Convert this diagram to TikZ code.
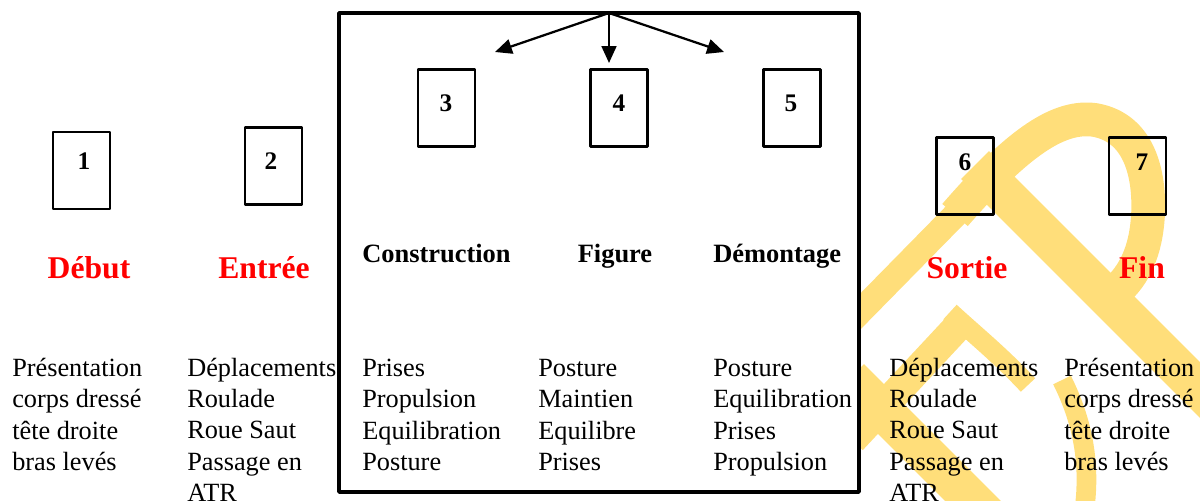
\documentclass[tikz,border=0pt]{standalone}
\usepackage{fontspec}
\setmainfont{Liberation Serif}
\usetikzlibrary{arrows.meta}
\definecolor{wmyellow}{RGB}{255,222,122}
\definecolor{titlered}{RGB}{255,0,0}
\tikzset{
  numbox/.style={draw,line width=1.8pt,minimum width=40.5pt,minimum height=54.5pt,inner sep=0pt},
  digit/.style={anchor=base,inner sep=0pt,font=\fontsize{18}{22}\selectfont\bfseries},
  redtitle/.style={anchor=base,inner sep=0pt,text=titlered,font=\fontsize{22.5}{27}\selectfont\bfseries},
  blacktitle/.style={anchor=base west,inner sep=0pt,font=\fontsize{18.8}{22}\selectfont\bfseries},
  itemlist/.style={anchor=base west,align=left,inner sep=0pt,font=\fontsize{18.7}{22.05}\selectfont},
  watermark/.style={draw=wmyellow,line cap=butt},
}
\begin{document}
\begin{tikzpicture}[x=0.025cm,y=-0.025cm,line join=round]
    \useasboundingbox (0,0) rectangle (1200,500);
    % filigrane
    \draw[watermark,line width=18pt] (850,322) -- (960,210);
    \draw[watermark,line width=24pt] (955,215) .. controls (1020,140) and (1060,115) .. (1095,120)
        .. controls (1140,128) and (1150,175) .. (1148,215) .. controls (1146,250) and (1135,275) .. (1115,292);
    \draw[watermark,line width=28pt] (975,165) -- (1215,405);
    \draw[watermark,line width=21pt] (852,440) -- (962,322);
    \draw[watermark,line width=14pt] (950,312) .. controls (975,335) and (1000,355) .. (1028,385);
    \draw[watermark,line width=28pt] (850,378) -- (1000,528);
    \draw[watermark,line width=14pt] (1062,380) .. controls (1082,420) and (1090,460) .. (1085,505);
    % cadre central
    \draw[line width=2.6pt,fill=white] (339,13) rectangle (859,492);
    \coordinate (apex) at (609,13);
    \coordinate (t3) at (495,52);
    \coordinate (t4) at (609,63);
    \coordinate (t5) at (724,52);
    \foreach \t in {t3,t4,t5}{%
        \draw[line width=1.6pt,-{Triangle[length=12pt,width=10.5pt]}] (apex) -- (\t);
    }%
    % boites numerotees
    \foreach \n/\x/\y/\dx/\dy in {1/81.5/170.5/84/169, 2/273.5/166/271/169, 3/446.5/108/446/111,
        4/619/108/619/111, 5/792/108/791/111, 6/965/176/965/170, 7/1137.5/176/1142/170}{%
        \node[numbox] (b\n) at (\x,\y) {};
        \node[digit] (d\n) at (\dx,\dy) {\n};
    }%
    % titres
    \node[redtitle] (debut) at (89,278) {Début};
    \node[redtitle] (entree) at (264,278) {Entrée};
    \node[redtitle] (sortie) at (967,278) {Sortie};
    \node[redtitle] (fin) at (1142,278) {Fin};
    \node[blacktitle] (constr) at (362,262) {Construction};
    \node[blacktitle,anchor=base] (figure) at (615,262) {Figure};
    \node[blacktitle] (demont) at (713,262) {Démontage};
    % listes (ancre sur la derniere ligne)
    \node[itemlist] (l1) at (12,470) {Présentation\\corps dressé\\tête droite\\bras levés};
    \node[itemlist] (l2) at (187,501) {Déplacements\\Roulade\\Roue Saut\\Passage en\\ATR};
    \node[itemlist] (l3) at (362,470) {Prises\\Propulsion\\Equilibration\\Posture};
    \node[itemlist] (l4) at (538,470) {Posture\\Maintien\\Equilibre\\Prises};
    \node[itemlist] (l5) at (713,470) {Posture\\Equilibration\\Prises\\Propulsion};
    \node[itemlist] (l6) at (889,501) {Déplacements\\Roulade\\Roue Saut\\Passage en\\ATR};
    \node[itemlist] (l7) at (1064,470) {Présentation\\corps dressé\\tête droite\\bras levés};
\end{tikzpicture}
\end{document}
